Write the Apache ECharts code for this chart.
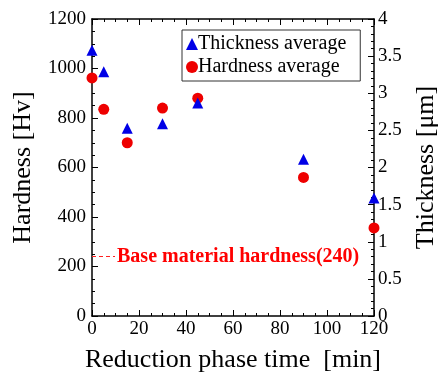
<!DOCTYPE html>
<html>
<head>
<meta charset="utf-8">
<script src="https://cdn.jsdelivr.net/npm/echarts@6/dist/echarts.min.js"></script>
<style>
  html, body { margin: 0; padding: 0; background: #fff; }
  #chart { width: 442px; height: 373px; }
</style>
</head>
<body>
<div id="chart"></div>
<script>
// Reduction phase time [min]
const times = [0, 5, 15, 30, 45, 90, 120]
// Hardness average [Hv]
const hardness = [962, 835, 700, 840, 880, 560, 356]
// Thickness average [um]
const thickness = [3.58, 3.29, 2.53, 2.59, 2.87, 2.11, 1.59]
const baseHardness = 240

const FONT = 'Liberation Serif'
const tickStyle = { inside: true, length: 6, lineStyle: { color: '#000', width: 1 } }
const minorStyle = { show: true, length: 3, lineStyle: { color: '#000', width: 1 } }
const lineStyle = { show: true, onZero: false, lineStyle: { color: '#000', width: 1.5 } }

const chart = echarts.init(document.getElementById('chart'))

chart.setOption({
  animation: false,
  grid: { left: 92, right: 68, top: 19, bottom: 57, outerBoundsMode: 'none', containLabel: false },
  legend: {
    left: 182,
    top: 30,
    width: 160,
    orient: 'vertical',
    itemGap: 3,
    itemWidth: 12,
    itemHeight: 12,
    padding: [4, 14, 4, 4],
    borderColor: '#333',
    borderWidth: 1,
    textStyle: { fontFamily: FONT, fontSize: 20, color: '#000', padding: [0, 0, 0, -5] },
    data: [
      { name: 'Thickness average', icon: 'triangle' },
      { name: 'Hardness average', icon: 'circle' },
    ],
  },
  xAxis: [
    {
      type: 'value',
      min: 0,
      max: 120,
      interval: 20,
      axisLine: lineStyle,
      axisTick: tickStyle,
      minorTick: { ...minorStyle, splitNumber: 4 },
      splitLine: { show: false },
      axisLabel: { fontFamily: FONT, fontSize: 19, color: '#000', margin: 4 },
      name: 'Reduction phase time  [min]',
      nameLocation: 'middle',
      nameGap: 31,
      nameTextStyle: { fontFamily: FONT, fontSize: 26, color: '#000' },
    },
    {
      type: 'value',
      position: 'top',
      min: 0,
      max: 120,
      interval: 20,
      axisLine: lineStyle,
      axisTick: tickStyle,
      minorTick: { ...minorStyle, splitNumber: 4 },
      splitLine: { show: false },
      axisLabel: { show: false },
    },
  ],
  yAxis: [
    {
      type: 'value',
      min: 0,
      max: 1200,
      interval: 200,
      axisLine: lineStyle,
      axisTick: tickStyle,
      minorTick: { ...minorStyle, splitNumber: 4 },
      splitLine: { show: false },
      axisLabel: { fontFamily: FONT, fontSize: 19, color: '#000', margin: 6, formatter: v => String(v) },
      name: 'Hardness [Hv]',
      nameLocation: 'middle',
      nameGap: 56,
      nameTextStyle: { fontFamily: FONT, fontSize: 26, color: '#000' },
    },
    {
      type: 'value',
      position: 'right',
      min: 0,
      max: 4,
      interval: 0.5,
      axisLine: lineStyle,
      axisTick: tickStyle,
      minorTick: { ...minorStyle, splitNumber: 5 },
      splitLine: { show: false },
      axisLabel: { fontFamily: FONT, fontSize: 19, color: '#000', margin: 4 },
      name: 'Thickness [\u03bcm]',
      nameLocation: 'middle',
      nameGap: 39,
      nameRotate: 90,
      nameTextStyle: { fontFamily: FONT, fontSize: 26, color: '#000' },
    },
  ],
  series: [
    {
      name: 'Thickness average',
      type: 'scatter',
      yAxisIndex: 1,
      symbol: 'triangle',
      symbolSize: 11,
      clip: false,
      itemStyle: { color: '#0000e6', opacity: 1 },
      data: times.map((t, i) => [t, thickness[i]]),
      z: 3,
    },
    {
      name: 'Hardness average',
      type: 'scatter',
      yAxisIndex: 0,
      symbol: 'circle',
      symbolSize: 11,
      clip: false,
      itemStyle: { color: '#ee0000', opacity: 1 },
      data: times.map((t, i) => [t, hardness[i]]),
      z: 2,
      markLine: {
        silent: true,
        symbol: 'none',
        lineStyle: { color: '#ff2020', type: [4, 3], width: 1 },
        label: {
          show: true,
          position: 'end',
          distance: 2,
          formatter: 'Base material hardness(' + baseHardness + ')',
          fontFamily: FONT,
          fontWeight: 'bold',
          fontSize: 20,
          color: '#ff0000',
        },
        data: [[{ coord: [0, baseHardness] }, { coord: [9.8, baseHardness] }]],
      },
    },
  ],
})
</script>
</body>
</html>
